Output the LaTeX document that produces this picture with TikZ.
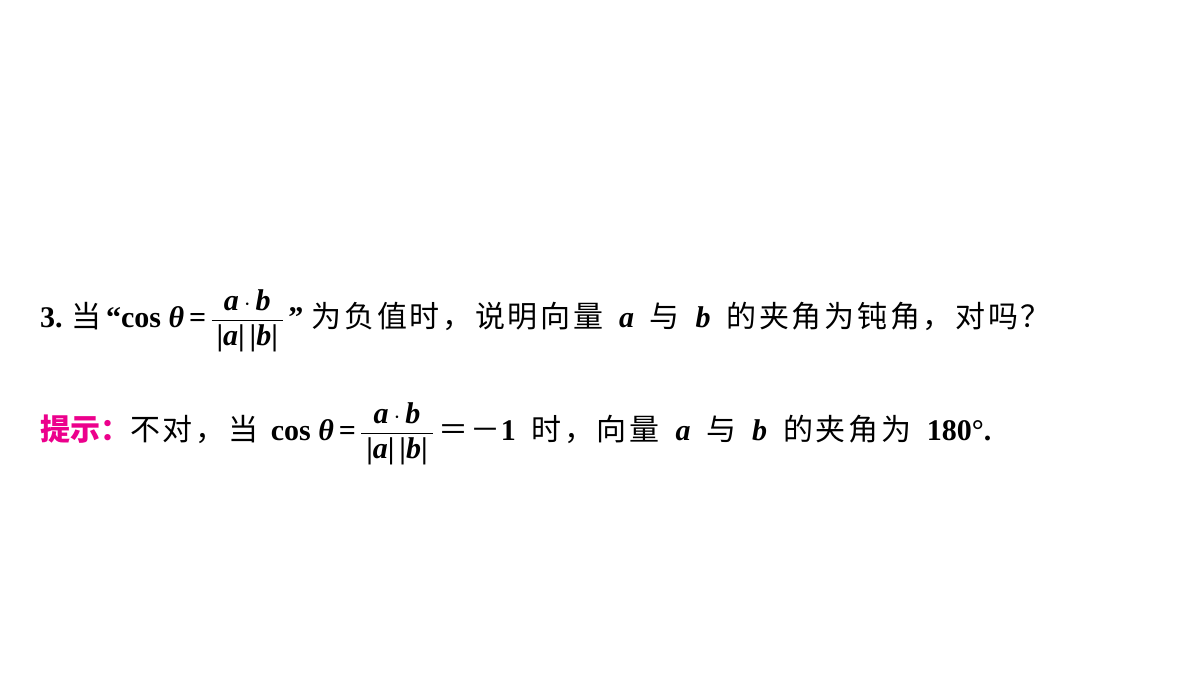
\documentclass[tikz,border=0pt]{standalone}
\usepackage{amsmath}
\usepackage{fontspec}
\setmainfont{Liberation Serif}
\newfontfamily\cjk[LetterSpace=9]{Noto Sans CJK SC}
\newfontfamily\cjkhei{Noto Sans CJK SC}
\usetikzlibrary{positioning}

\newcommand{\cn}[1]{{\cjk\mdseries #1}}
\newcommand{\vfrac}{\ensuremath{\,\dfrac{\text{\bfseries\itshape a\,$\cdot$\,b}}{\text{\bfseries\,|\itshape a\upshape|\,|\itshape b\upshape|\,}}\,}}

\begin{document}
\begin{tikzpicture}[x=1pt,y=1pt]
    \tikzset{textline/.style = {anchor=base west, inner sep=0pt, font=\fontsize{30}{34}\selectfont\bfseries}}

    \useasboundingbox (0,0) rectangle (1200,-675);

    \node[textline] (question) at (40,-327)
        {3.\;\cn{当}\,“cos \textit{θ}\,=\vfrac”\;\cn{为负值时，说明向量}\; \textit{a}\; \cn{与}\; \textit{b}\; \cn{的夹角为钝角，对吗？}};
    \node[textline] (answer) at (40,-440)
        {{\cjkhei\bfseries\color{magenta}提示：}\cn{不对，当}\, cos \textit{θ}\,=\vfrac\cn{＝－}1\; \cn{时，向量}\; \textit{a}\; \cn{与}\; \textit{b}\; \cn{的夹角为}\; 180°.};
\end{tikzpicture}
\end{document}
